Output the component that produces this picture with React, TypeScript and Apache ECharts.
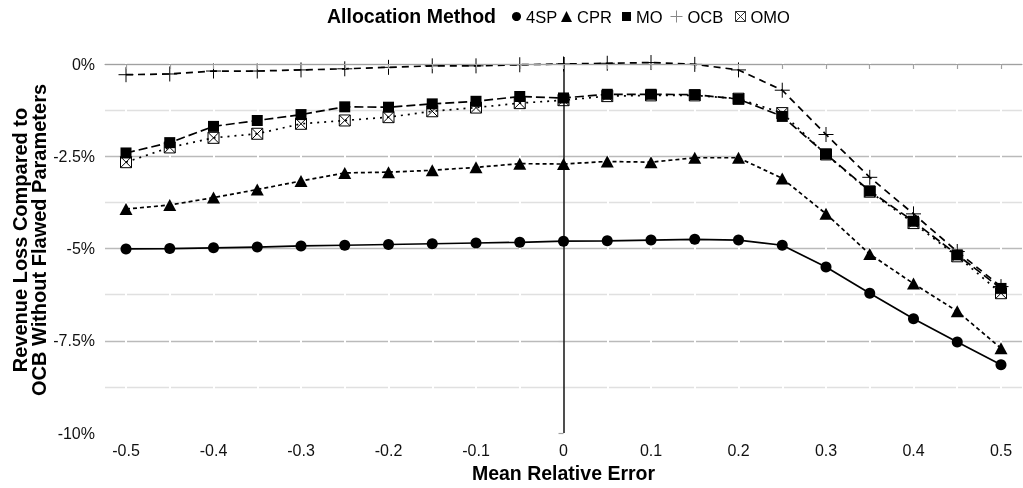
import React, { useEffect, useRef } from "react";
import * as echarts from "echarts";

const xValues = [-0.5, -0.45, -0.4, -0.35, -0.3, -0.25, -0.2, -0.15, -0.1, -0.05, 0, 0.05, 0.1, 0.15, 0.2, 0.25, 0.3, 0.35, 0.4, 0.45, 0.5];
const s4SP = [-5.01, -5.0, -4.98, -4.96, -4.93, -4.91, -4.89, -4.87, -4.85, -4.83, -4.8, -4.79, -4.77, -4.75, -4.77, -4.91, -5.5, -6.21, -6.9, -7.53, -8.15];
const sCPR = [-3.93, -3.82, -3.62, -3.4, -3.17, -2.95, -2.93, -2.88, -2.8, -2.7, -2.71, -2.64, -2.66, -2.54, -2.54, -3.1, -4.06, -5.15, -5.95, -6.7, -7.7];
const sMO = [-2.41, -2.13, -1.69, -1.53, -1.37, -1.16, -1.17, -1.08, -1.01, -0.88, -0.92, -0.82, -0.82, -0.83, -0.95, -1.42, -2.44, -3.44, -4.26, -5.17, -6.08];
const sOCB = [-0.29, -0.27, -0.19, -0.19, -0.16, -0.13, -0.09, -0.05, -0.05, -0.02, 0.0, 0.02, 0.04, -0.01, -0.16, -0.71, -1.91, -3.07, -4.06, -5.08, -6.03];
const sOMO = [-2.66, -2.26, -2.0, -1.89, -1.62, -1.53, -1.44, -1.28, -1.18, -1.06, -0.98, -0.87, -0.85, -0.85, -0.94, -1.33, -2.45, -3.46, -4.31, -5.21, -6.21];

const xTickValues = [-0.5, -0.45, -0.4, -0.35, -0.3, -0.25, -0.2, -0.15, -0.1, -0.05, 0, 0.05, 0.1, 0.15, 0.2, 0.25, 0.3, 0.35, 0.4, 0.45, 0.5];
const xLabelValues = [-0.5, -0.4, -0.3, -0.2, -0.1, 0, 0.1, 0.2, 0.3, 0.4, 0.5];
const yMajorValues = [-10, -7.5, -5, -2.5, 0];
const yMinorValues = [-8.75, -6.25, -3.75, -1.25];

const FONT = "'Liberation Sans', Arial, sans-serif";
const PLUS = "path://M0,8 L16,8 M8,0 L8,16";
const BOXX = "path://M0,0 L10,0 L10,10 L0,10 Z M0,0 L10,10 M10,0 L0,10";

export default function App() {
  const ref = useRef<HTMLDivElement>(null);
  useEffect(() => {
    const chart = echarts.init(ref.current!, null, { renderer: "svg" });
    const pairs = (ys: number[]) => xValues.map((x, i) => [x, ys[i]]);
    const baseSeries = (name: string, ys: number[], lineType: any, symbol: string, size: any, itemStyle: any) => ({
      name,
      type: "line",
      data: pairs(ys),
      z: 5,
      symbol,
      symbolSize: size,
      showAllSymbol: true,
      lineStyle: { color: "#000", width: 1.7, type: lineType },
      itemStyle,
      emphasis: { disabled: true },
      silent: true,
    });
    const legendItem = (name: string, icon: string, left: number, size: number, itemStyle?: any) => ({
      left,
      top: 8,
      padding: 0,
      itemWidth: size,
      itemHeight: size,
      selectedMode: false,
      textStyle: { fontFamily: FONT, fontSize: 16.5, color: "#000" },
      data: [itemStyle ? { name, icon, itemStyle } : { name, icon }],
    });
    const option: any = {
      animation: false,
      textStyle: { fontFamily: FONT },
      title: {
        text: "Allocation Method",
        left: 327,
        top: 6,
        padding: 0,
        textStyle: { fontFamily: FONT, fontWeight: "bold", fontSize: 19.5, color: "#000" },
      },
      legend: [
        legendItem("4SP", "circle", 512, 9),
        legendItem("CPR", "triangle", 561, 11),
        legendItem("MO", "rect", 622, 9),
        legendItem("OCB", PLUS, 670, 12, { color: "rgba(0,0,0,0)", borderColor: "#888", borderWidth: 1 }),
        legendItem("OMO", BOXX, 735, 10, { color: "rgba(0,0,0,0)", borderColor: "#333", borderWidth: 1 }),
      ],
      grid: { left: 105, right: 1, top: 57, bottom: 48, containLabel: false },
      xAxis: {
        type: "value",
        min: -0.524,
        max: 0.524,
        z: 10,
        axisLine: { show: true, lineStyle: { color: "#a0a0a0", width: 1.2 } },
        axisTick: { show: true, length: 5, customValues: xTickValues, lineStyle: { color: "#a0a0a0", width: 1.2 } },
        axisLabel: {
          customValues: xLabelValues,
          margin: 9,
          fontSize: 16,
          color: "#111",
          fontFamily: FONT,
          formatter: (v: number) => String(Math.round(v * 100) / 100),
        },
        splitLine: { show: false },
        name: "Mean Relative Error",
        nameLocation: "middle",
        nameGap: 23,
        nameTextStyle: { fontFamily: FONT, fontWeight: "bold", fontSize: 19.5, color: "#000" },
      },
      yAxis: {
        type: "value",
        min: -10,
        max: 0.19,
        axisLine: { show: false },
        axisTick: { show: true, length: 5, customValues: yMajorValues, lineStyle: { color: "#a0a0a0", width: 1.2 } },
        axisLabel: {
          customValues: yMajorValues,
          margin: 10,
          fontSize: 16,
          color: "#111",
          fontFamily: FONT,
          formatter: (v: number) => `${v}%`,
        },
        splitLine: { show: false },
      },
      graphic: [
        {
          type: "text",
          x: 29,
          y: 240,
          rotation: Math.PI / 2,
          style: {
            text: "Revenue Loss Compared to\nOCB Without Flawed Parameters",
            fontFamily: FONT,
            fontWeight: "bold",
            fontSize: 20,
            lineHeight: 19,
            fill: "#000",
            textAlign: "center",
            textVerticalAlign: "middle",
          },
        },
      ],
      series: [
        {
          name: "gridH",
          type: "line",
          data: [],
          z: 1,
          silent: true,
          markLine: {
            silent: true,
            symbol: ["none", "none"],
            label: { show: false },
            emphasis: { disabled: true },
            data: [
              ...yMajorValues.filter((v) => v > -10).map((v) => ({ yAxis: v, lineStyle: { color: "#bababa", width: 1.3, type: "solid" } })),
              ...yMinorValues.map((v) => ({ yAxis: v, lineStyle: { color: "#e0e0e0", width: 1.3, type: "solid" } })),
            ],
          },
        },
        {
          name: "gridV",
          type: "line",
          data: [],
          z: 2,
          silent: true,
          markLine: {
            silent: true,
            symbol: ["none", "none"],
            label: { show: false },
            emphasis: { disabled: true },
            data: xTickValues.filter((v) => v !== 0).map((v) => ({ xAxis: v, lineStyle: { color: "#ffffff", width: 2, type: "solid" } })),
          },
        },
        {
          name: "zeroLine",
          type: "line",
          data: [],
          z: 3,
          silent: true,
          markLine: {
            silent: true,
            symbol: ["none", "none"],
            label: { show: false },
            emphasis: { disabled: true },
            data: [{ xAxis: 0, lineStyle: { color: "#222", width: 1.6, type: "solid" } }],
          },
        },
        baseSeries("4SP", s4SP, "solid", "circle", 11, { color: "#000" }),
        baseSeries("CPR", sCPR, [4, 3], "triangle", [13, 12], { color: "#000" }),
        baseSeries("MO", sMO, [9, 4], "rect", 11, { color: "#000" }),
        baseSeries("OCB", sOCB, [7, 5], PLUS, 15, { color: "rgba(0,0,0,0)", borderColor: "#000", borderWidth: 1 }),
        baseSeries("OMO", sOMO, [2, 5], BOXX, 11, { color: "rgba(0,0,0,0)", borderColor: "#000", borderWidth: 1 }),
      ],
    };
    chart.setOption(option);
    return () => chart.dispose();
  }, []);
  return <div ref={ref} style={{ position: "fixed", left: 0, top: 0, width: 1023, height: 488 }} />;
}
